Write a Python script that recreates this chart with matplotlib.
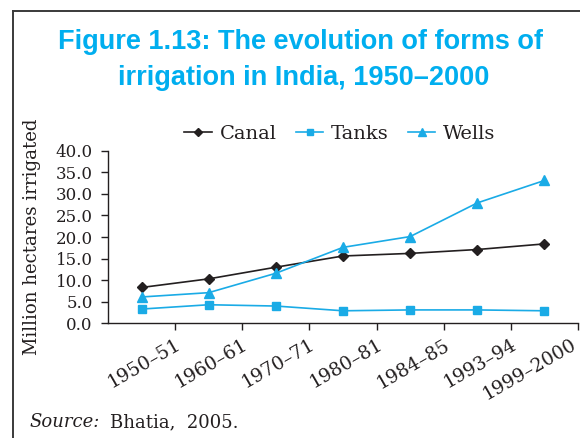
import matplotlib
matplotlib.use("Agg")
import matplotlib.pyplot as plt
from matplotlib.lines import Line2D
from matplotlib.transforms import ScaledTranslation
import numpy as np

categories = ["1950–51", "1960–61", "1970–71", "1980–81", "1984–85", "1993–94", "1999–2000"]
canal = [8.3, 10.3, 13.0, 15.6, 16.2, 17.1, 18.4]
tanks = [3.3, 4.3, 4.0, 2.9, 3.1, 3.1, 2.9]
wells = [6.1, 7.1, 11.6, 17.6, 20.1, 27.9, 33.1]
yticks = [0, 5, 10, 15, 20, 25, 30, 35, 40]

CYAN = "#1AABE6"
TITLE = "#00AEEF"
DARK = "#231F20"
SERIF = ["DejaVu Serif"]

W, H = 580, 438
fig = plt.figure(figsize=(W / 100, H / 100), dpi=100)
ax = fig.add_axes([108 / W, (H - 323.3) / H, 470 / W, 172.6 / H])

x = np.arange(len(categories))
ax.plot(x, canal, color=DARK, lw=1.2, marker="D", ms=5.5, label="Canal")
ax.plot(x, tanks, color=CYAN, lw=1.2, marker="s", ms=6, label="Tanks")
ax.plot(x, wells, color=CYAN, lw=1.2, marker="^", ms=7.5, label="Wells")

ax.set_xlim(-0.5, len(categories) - 0.5)
ax.set_ylim(0, 40)
ax.set_yticks(yticks)
ax.set_yticklabels([f"{v:.1f}" for v in yticks], fontfamily=SERIF, fontsize=12, color=DARK)

# category labels hang from the boundary ticks
ax.set_xticks(np.arange(len(categories)) + 0.5)
ax.set_xticklabels(categories, rotation=30, ha="right", va="top",
                   rotation_mode="anchor", fontfamily=SERIF, fontsize=13.5, color=DARK)
ax.tick_params(axis="x", length=5, width=1, color=DARK, direction="out", pad=4)
ax.tick_params(axis="y", length=5, width=1, color=DARK, direction="out", pad=6)
last = ax.get_xticklabels()[-1]
last.set_transform(last.get_transform() + ScaledTranslation(-5 / 72, 0, fig.dpi_scale_trans))

for s in ["top", "right"]:
    ax.spines[s].set_visible(False)
for s in ["left", "bottom"]:
    ax.spines[s].set_color(DARK)
    ax.spines[s].set_linewidth(1)
ax.patch.set_visible(False)

fig.text(32 / W, 1 - 237 / H, "Million hectares irrigated", rotation=90,
         ha="center", va="center", fontfamily=SERIF, fontsize=13.1, color=DARK)

leg = ax.legend(loc="center", bbox_to_anchor=(340 / W, 1 - 134 / H),
                bbox_transform=fig.transFigure, ncol=3, frameon=False,
                prop={"family": SERIF, "size": 14}, handlelength=1.4,
                columnspacing=1.0, handletextpad=0.4, markerscale=0.8,
                borderpad=0, borderaxespad=0)
for t in leg.get_texts():
    t.set_color(DARK)

fig.text(300.5 / W, 1 - 49 / H, "Figure 1.13: The evolution of forms of",
         ha="center", va="baseline", fontfamily="Liberation Sans", fontweight="bold",
         fontsize=19.5, color=TITLE)
fig.text(303.5 / W, 1 - 85 / H, "irrigation in India, 1950–2000",
         ha="center", va="baseline", fontfamily="Liberation Sans", fontweight="bold",
         fontsize=19.5, color=TITLE)

fig.text(29 / W, 1 - 427 / H, "Source:", ha="left", va="baseline",
         fontfamily=SERIF, fontstyle="italic", fontsize=13, color=DARK)
fig.text(110 / W, 1 - 427 / H, "Bhatia,  2005.", ha="left", va="baseline",
         fontfamily=SERIF, fontsize=13, color=DARK)

# frame lines
fig.add_artist(Line2D([13.3 / W, 13.3 / W], [0, 1 - 11 / H], transform=fig.transFigure,
                      color="#3a3a3a", lw=1.4))
fig.add_artist(Line2D([13.3 / W, 1], [1 - 11 / H, 1 - 11 / H], transform=fig.transFigure,
                      color="#3a3a3a", lw=1.4))

fig.savefig("out.png", dpi=100)
